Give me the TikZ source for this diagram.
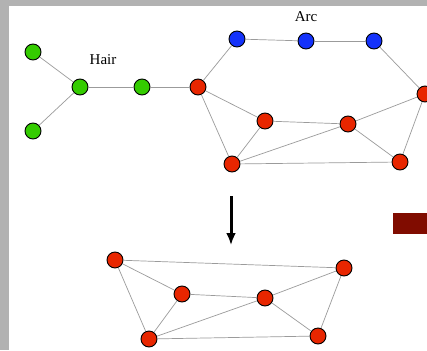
\documentclass[tikz,border=0pt]{standalone}
\usepackage{fontspec}
\setmainfont{Liberation Serif}
\usetikzlibrary{calc,positioning,shapes,arrows.meta}
\tikzset{>=latex}
\definecolor{hairgreen}{RGB}{52,204,0}
\definecolor{arcblue}{RGB}{20,50,250}
\definecolor{corered}{RGB}{232,38,0}
\definecolor{edgegray}{RGB}{155,155,155}
\definecolor{slidegray}{RGB}{178,178,178}
\definecolor{barred}{RGB}{128,12,0}

\begin{document}
\begin{tikzpicture}[x=1pt,y=-1pt,
    vtx/.style={circle,draw=black,line width=0.9pt,minimum size=16pt,inner sep=0pt},
    link/.style={draw=edgegray,line width=0.7pt}]
      \useasboundingbox (0,0) rectangle (427,350);
      % slide background
      \fill[slidegray] (0,0) rectangle (427,350);
      \fill[white] (9,6) rectangle (427,350);
      \fill[barred] (393,213) rectangle (427,234);

      % upper graph
      \node[vtx,fill=hairgreen] (g1) at (33,52) {};
      \node[vtx,fill=hairgreen] (g2) at (80,87) {};
      \node[vtx,fill=hairgreen] (g3) at (33,131) {};
      \node[vtx,fill=hairgreen] (g4) at (142,87) {};
      \node[vtx,fill=arcblue] (b1) at (237,39) {};
      \node[vtx,fill=arcblue] (b2) at (306,41) {};
      \node[vtx,fill=arcblue] (b3) at (374,41) {};
      \node[vtx,fill=corered] (r1) at (198,87) {};
      \node[vtx,fill=corered] (r2) at (425,94) {};
      \node[vtx,fill=corered] (r3) at (265,121) {};
      \node[vtx,fill=corered] (r4) at (348,124) {};
      \node[vtx,fill=corered] (r5) at (232,164) {};
      \node[vtx,fill=corered] (r6) at (400,162) {};
      \node[font=\fontsize{15}{17}\selectfont] (hair) at (103,60) {Hair};
      \node[font=\fontsize{15}{17}\selectfont] (arc) at (306,17) {Arc};
      \foreach \a/\b in {g1/g2,g3/g2,g2/g4,g4/r1,r1/b1,b1/b2,b2/b3,b3/r2,
                         r1/r3,r1/r5,r3/r5,r3/r4,r4/r2,r4/r6,r2/r6,r5/r4,r5/r6}
        \draw[link] (\a) -- (\b);

      % reduction arrow
      \coordinate (top) at (231,196);
      \coordinate (tip) at (231,245);
      \draw[-{Latex[length=12pt,width=10pt]},line width=3pt] (top) -- (tip);

      % lower graph
      \node[vtx,fill=corered] (s1) at (115,260) {};
      \node[vtx,fill=corered] (s2) at (344,268) {};
      \node[vtx,fill=corered] (s3) at (182,294) {};
      \node[vtx,fill=corered] (s4) at (265,298) {};
      \node[vtx,fill=corered] (s5) at (149,339) {};
      \node[vtx,fill=corered] (s6) at (318,336) {};
      \foreach \a/\b in {s1/s2,s1/s3,s1/s5,s3/s4,s3/s5,s4/s2,s4/s5,s4/s6,s2/s6,s5/s6}
        \draw[link] (\a) -- (\b);
\end{tikzpicture}
\end{document}
